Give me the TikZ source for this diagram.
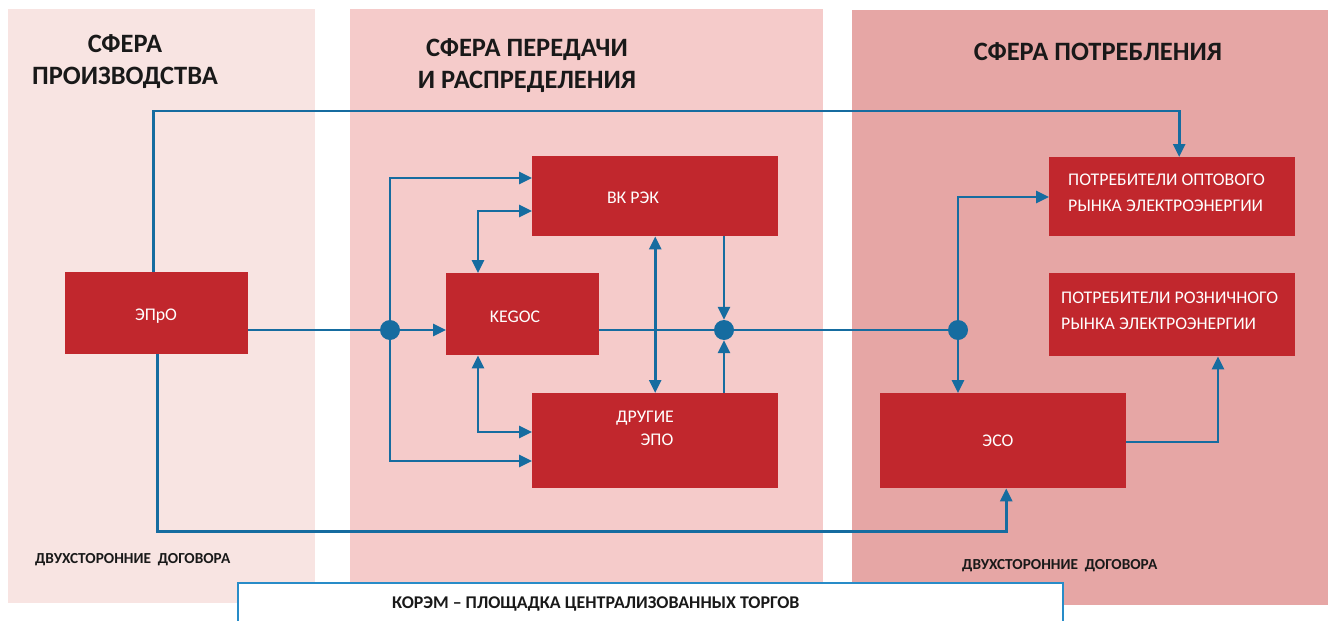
\documentclass[tikz,border=0pt]{standalone}
\usepackage{fontspec}
\setmainfont{Carlito}
\usetikzlibrary{arrows.meta,calc}
\definecolor{boxred}{RGB}{193,39,45}
\definecolor{lineblue}{RGB}{22,108,160}
\definecolor{pan1}{RGB}{248,228,226}
\definecolor{pan2}{RGB}{245,203,202}
\definecolor{pan3}{RGB}{230,166,165}
\definecolor{titlec}{RGB}{25,25,25}
\definecolor{frameblue}{RGB}{40,140,200}
\begin{document}
\begin{tikzpicture}[x=1pt,y=-1pt,
  redbox/.style={fill=boxred,draw=none,inner sep=0pt,anchor=north west},
  boxtext/.style={text=white,inner sep=0pt,font=\fontsize{17.8}{26}\selectfont},
  titletext/.style={text=titlec,inner sep=0pt,align=center,font=\fontsize{26.5}{32}\selectfont\bfseries},
  smalltext/.style={text=titlec,inner sep=0pt,font=\fontsize{15.3}{17}\selectfont\bfseries},
  wire/.style={draw=lineblue,line width=2.6pt},
  arr/.style={-{Triangle[length=13pt,width=12pt]}},
  arrtwo/.style={{Triangle[length=13pt,width=12pt]}-{Triangle[length=13pt,width=12pt]}},
  dot/.style={circle,fill=lineblue,inner sep=0pt,minimum size=20pt}]
\clip (0,0) rectangle (1331,621);
\fill[white] (0,0) rectangle (1331,621);
% panels
\fill[pan1] (8,9) rectangle (315,603);
\fill[pan2] (350,9) rectangle (823,600);
\fill[pan3] (852,10) rectangle (1328,605);
% bottom frame
\filldraw[fill=white,draw=frameblue,line width=1.8pt] (1063,640) -- (1063,583) -- (238,583) -- (238,640);
% titles
\node[titletext] (t1) at (125,62) {СФЕРА\\ПРОИЗВОДСТВА};
\node[titletext] (t2) at (527,66) {СФЕРА ПЕРЕДАЧИ\\И РАСПРЕДЕЛЕНИЯ};
\node[titletext] (t3) at (1098,52) {СФЕРА ПОТРЕБЛЕНИЯ};
% boxes
\node[redbox,minimum width=183pt,minimum height=82pt] (epro) at (65,272) {};
\node[redbox,minimum width=153pt,minimum height=82pt] (kegoc) at (446,273) {};
\node[redbox,minimum width=246pt,minimum height=80pt] (vk) at (532,156) {};
\node[redbox,minimum width=246pt,minimum height=95pt] (dr) at (532,393) {};
\node[redbox,minimum width=246pt,minimum height=79pt] (opt) at (1049,157) {};
\node[redbox,minimum width=246pt,minimum height=83pt] (roz) at (1049,273) {};
\node[redbox,minimum width=246pt,minimum height=95pt] (eso) at (880,393) {};
% box texts
\node[boxtext] (tepro) at (156,316) {ЭПрО};
\node[boxtext] (tkegoc) at (515,317) {KEGOC};
\node[boxtext] (tvk) at (633,198) {ВК РЭК};
\node[boxtext] (tdr1) at (645,418) {ДРУГИЕ};
\node[boxtext] (tdr2) at (657,440) {ЭПО};
\node[boxtext,align=left,anchor=west] (topt) at (1068,193) {ПОТРЕБИТЕЛИ ОПТОВОГО\\РЫНКА ЭЛЕКТРОЭНЕРГИИ};
\node[boxtext,align=left,anchor=west] (troz) at (1061,311) {ПОТРЕБИТЕЛИ РОЗНИЧНОГО\\РЫНКА ЭЛЕКТРОЭНЕРГИИ};
\node[boxtext] (teso) at (998,441) {ЭСО};
% bottom texts
\node[smalltext,anchor=west] (dog1) at (35,560) {ДВУХСТОРОННИЕ\ \ ДОГОВОРА};
\node[smalltext,anchor=west] (dog2) at (962,566) {ДВУХСТОРОННИЕ\ \ ДОГОВОРА};
\node[smalltext,font=\fontsize{17.9}{19}\selectfont\bfseries,anchor=west] (korem) at (392,604) {КОРЭМ – ПЛОЩАДКА ЦЕНТРАЛИЗОВАННЫХ ТОРГОВ};
% junctions
\node[dot] (d1) at (390,330) {};
\node[dot] (d2) at (724,330) {};
\node[dot] (d3) at (958,330) {};
% connectors
\draw[wire] (epro.east |- d1) -- (d1);
\draw[wire,arr] (d1) -- (kegoc.west |- d1);
\draw[wire,arr] (d1) |- ([yshift=-22pt]vk.north west);
\draw[wire,arr] (d1) |- ([yshift=-68pt]dr.north west);
\draw[wire,arrtwo] ([xshift=32pt]kegoc.north west) |- ([yshift=-55pt]vk.north west);
\draw[wire,arrtwo] ([xshift=32pt]kegoc.south west) |- ([yshift=-39pt]dr.north west);
\draw[wire,arrtwo] (vk.south) -- (dr.north);
\draw[wire,arr] ([xshift=192pt]vk.south west) -- (d2);
\draw[wire,arr] ([xshift=192pt]dr.north west) -- (d2);
\draw[wire] (kegoc.east |- d2) -- (d2);
\draw[wire] (d2) -- (d3);
\draw[wire,arr] (d3) |- ([yshift=-40pt]opt.north west);
\draw[wire,arr] (d3) -- (d3 |- eso.north);
\draw[wire,arr] ([yshift=-49pt]eso.north east) -| ([xshift=169pt]roz.south west);
\draw[wire,arr] ([xshift=-3.5pt]epro.north) -- ++(0,-161) -| ([xshift=7pt]opt.north);
\draw[wire,arr] ([xshift=0.5pt]epro.south) -- ++(0,177) -| ([xshift=3pt]eso.south);
\end{tikzpicture}
\end{document}
